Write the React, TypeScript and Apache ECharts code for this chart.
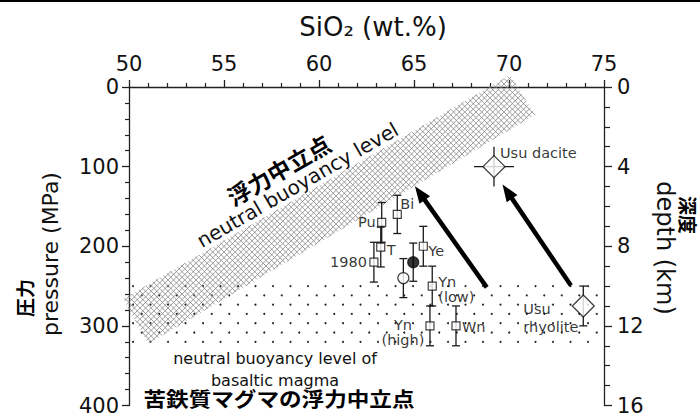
import React, { useEffect, useRef } from "react";
import * as echarts from "echarts";

// ---------------- data ----------------
const sampleNames = ["Pu", "Bi", "T", "1980", "Ye", "Yn\n(low)", "Yn\n(high)", "Wn"];
const sampleSiO2 = [63.3, 64.12, 63.25, 62.89, 65.49, 65.96, 65.84, 67.21];
const samplePressure = [170, 160, 201, 220, 200, 250, 300, 300];
const samplePressureError = [25, 24, 25, 25, 25, 25, 25, 25];

const circleNames = ["open", "filled"];
const circleSiO2 = [64.44, 64.96];
const circlePressure = [240, 220];
const circlePressureError = [24.5, 24];

const usuNames = ["Usu dacite", "Usu\nrhyolite"];
const usuSiO2 = [69.21, 73.91];
const usuPressure = [100, 275];
const usuPressureError = [25, 25];
const usuSiO2Error = [1.05, 0];

const arrowFromSiO2 = [68.83, 73.26];
const arrowFromPressure = [251.6, 249.4];
const arrowToSiO2 = [65.05, 69.66];
const arrowToPressure = [124.6, 122.5];

// neutral buoyancy band (corners)
const bandSiO2 = [49.7, 70.05, 71.37, 51.02];
const bandPressure = [266, -15, 35, 322.5];

// basaltic magma neutral buoyancy zone
const basaltSiO2 = [50, 75];
const basaltPressure = [250, 320];

const sio2Range = [50, 75];
const pressureRange = [0, 400];
const depthRange = [0, 16];

// ---------------- styles ----------------
const INK = "#111";
const LATIN = "DejaVu Sans";
const CJK = "Noto Sans CJK JP";

const labelLayout: Record<string, { align: string; offset: [number, number]; lineHeight?: number }> = {
  Pu: { align: "right", offset: [-6, 0] },
  Bi: { align: "left", offset: [3, -10] },
  T: { align: "left", offset: [6, 3] },
  "1980": { align: "right", offset: [-7, 0] },
  Ye: { align: "left", offset: [5, 5] },
  "Yn\n(low)": { align: "left", offset: [6, 3], lineHeight: 15 },
  "Yn\n(high)": { align: "center", offset: [-27, 7], lineHeight: 15 },
  Wn: { align: "left", offset: [6, 1] },
  "Usu dacite": { align: "left", offset: [6, -14] },
  "Usu\nrhyolite": { align: "left", offset: [-60, 12], lineHeight: 18 },
};
const capWidthByName: Record<string, number> = { "Usu dacite": 0 };

function clipLine(poly: number[][], a: number, b: number, c: number) {
  const pts: number[][] = [];
  for (let i = 0; i < poly.length; i++) {
    const p = poly[i];
    const q = poly[(i + 1) % poly.length];
    const fp = a * p[0] + b * p[1] - c;
    const fq = a * q[0] + b * q[1] - c;
    if ((fp <= 0 && fq > 0) || (fp > 0 && fq <= 0)) {
      const t = fp / (fp - fq);
      pts.push([p[0] + (q[0] - p[0]) * t, p[1] + (q[1] - p[1]) * t]);
    }
  }
  return pts.length >= 2 ? [pts[0], pts[1]] : null;
}

function labelFor(name: string) {
  const l = labelLayout[name];
  return {
    show: true,
    position: "inside",
    formatter: "{b}",
    align: l.align,
    offset: l.offset,
    lineHeight: l.lineHeight || 16,
    fontFamily: LATIN,
    fontSize: 14.5,
    color: "#000",
    textBorderWidth: 0,
    textBorderColor: "transparent",
    textShadowBlur: 0,
  };
}

function buildOption() {
  const errorData: any[] = [];
  sampleNames.forEach((n, i) =>
    errorData.push([sampleSiO2[i], samplePressure[i], samplePressureError[i], 0, 8])
  );
  circleNames.forEach((n, i) =>
    errorData.push([circleSiO2[i], circlePressure[i], circlePressureError[i], 0, 8])
  );
  usuNames.forEach((n, i) =>
    errorData.push([
      usuSiO2[i],
      usuPressure[i],
      usuPressureError[i],
      usuSiO2Error[i],
      capWidthByName[n] !== undefined ? capWidthByName[n] : 8,
    ])
  );

  const axisLineStyle = { color: "#222", width: 1.3 };
  const axisLabelBase = { fontFamily: LATIN, fontSize: 21, color: INK };

  return {
    animation: false,
    backgroundColor: "#fff",
    grid: { left: 129, right: 96, top: 87, bottom: 9, containLabel: false },
    xAxis: {
      type: "value",
      position: "top",
      min: sio2Range[0],
      max: sio2Range[1],
      interval: 5,
      axisLine: { show: true, onZero: false, lineStyle: axisLineStyle },
      axisTick: { show: true, length: 7, lineStyle: axisLineStyle },
      minorTick: { show: true, splitNumber: 5, length: 4, lineStyle: { color: "#222", width: 1.2 } },
      axisLabel: { ...axisLabelBase, margin: 13 },
      splitLine: { show: false },
    },
    yAxis: [
      {
        type: "value",
        position: "left",
        inverse: true,
        min: pressureRange[0],
        max: pressureRange[1],
        interval: 100,
        axisLine: { show: true, onZero: false, lineStyle: axisLineStyle },
        axisTick: { show: true, length: 7, lineStyle: axisLineStyle },
        minorTick: { show: true, splitNumber: 5, length: 4, lineStyle: { color: "#222", width: 1.2 } },
        axisLabel: { ...axisLabelBase, margin: 10 },
        splitLine: { show: false },
      },
      {
        type: "value",
        position: "right",
        inverse: true,
        min: depthRange[0],
        max: depthRange[1],
        interval: 4,
        axisLine: { show: true, onZero: false, lineStyle: axisLineStyle },
        axisTick: { show: true, length: 8, lineStyle: axisLineStyle },
        minorTick: { show: true, splitNumber: 4, length: 6, lineStyle: { color: "#222", width: 1.2 } },
        axisLabel: { ...axisLabelBase, margin: 13 },
        splitLine: { show: false },
      },
    ],
    series: [
      // dotted zone (basaltic magma NBL)
      {
        type: "custom",
        z: 1,
        silent: true,
        data: [[basaltSiO2[0], basaltPressure[0], basaltSiO2[1], basaltPressure[1]]],
        encode: { x: [0, 2], y: [1, 3] },
        renderItem: (params: any, api: any) => {
          const p0 = api.coord([api.value(0), api.value(1)]);
          const p1 = api.coord([api.value(2), api.value(3)]);
          const children: any[] = [];
          const dy = (p1[1] - p0[1]) / 6;
          const dx = 17.5;
          for (let r = 0; r <= 6; r++) {
            const y = p0[1] + r * dy;
            let x = p0[0] + 4 + (r % 2 === 1 ? dx / 2 : 0);
            for (; x <= p1[0] - 3; x += dx) {
              children.push({
                type: "circle",
                shape: { cx: x, cy: y, r: 1 },
                style: { fill: "#222" },
              });
            }
          }
          return { type: "group", children };
        },
      },
      // cross-hatched neutral buoyancy band
      {
        type: "custom",
        z: 2,
        silent: true,
        data: [[bandSiO2[0], bandPressure[0]]],
        renderItem: (params: any, api: any) => {
          const poly = bandSiO2.map((v, i) => api.coord([v, bandPressure[i]]));
          const children: any[] = [];
          const step = 5.6;
          const sums = poly.map((p: number[]) => p[0] + p[1]);
          const diffs = poly.map((p: number[]) => p[0] - p[1]);
          const addFamily = (vals: number[], a: number, b: number) => {
            const lo = Math.floor(Math.min(...vals) / step) * step;
            const hi = Math.max(...vals);
            for (let c = lo; c <= hi; c += step) {
              const seg = clipLine(poly, a, b, c);
              if (seg) {
                children.push({
                  type: "line",
                  shape: { x1: seg[0][0], y1: seg[0][1], x2: seg[1][0], y2: seg[1][1] },
                  style: { stroke: "#858585", lineWidth: 0.8 },
                });
              }
            }
          };
          addFamily(sums, 1, 1);
          addFamily(diffs, 1, -1);
          return { type: "group", children };
        },
      },
      // error bars
      {
        type: "custom",
        z: 3,
        silent: true,
        data: errorData,
        renderItem: (params: any, api: any) => {
          const x = api.value(0);
          const y = api.value(1);
          const ey = api.value(2);
          const ex = api.value(3);
          const cap = api.value(4);
          const top = api.coord([x, y - ey]);
          const bot = api.coord([x, y + ey]);
          const st = { stroke: "#1a1a1a", lineWidth: 1.3 };
          const children: any[] = [
            { type: "line", shape: { x1: top[0], y1: top[1], x2: bot[0], y2: bot[1] }, style: st },
          ];
          if (cap > 0) {
            children.push({ type: "line", shape: { x1: top[0] - cap / 2, y1: top[1], x2: top[0] + cap / 2, y2: top[1] }, style: st });
            children.push({ type: "line", shape: { x1: bot[0] - cap / 2, y1: bot[1], x2: bot[0] + cap / 2, y2: bot[1] }, style: st });
          }
          if (ex > 0) {
            const l = api.coord([x - ex, y]);
            const r = api.coord([x + ex, y]);
            children.push({ type: "line", shape: { x1: l[0], y1: l[1], x2: r[0], y2: r[1] }, style: st });
          }
          return { type: "group", children };
        },
      },
      // arrows
      {
        type: "custom",
        z: 4,
        silent: true,
        data: arrowFromSiO2.map((v, i) => [v, arrowFromPressure[i], arrowToSiO2[i], arrowToPressure[i]]),
        encode: { x: [0, 2], y: [1, 3] },
        renderItem: (params: any, api: any) => {
          const p1 = api.coord([api.value(0), api.value(1)]);
          const p2 = api.coord([api.value(2), api.value(3)]);
          const dx = p2[0] - p1[0];
          const dy = p2[1] - p1[1];
          const len = Math.sqrt(dx * dx + dy * dy);
          const ux = dx / len;
          const uy = dy / len;
          const nx = -uy;
          const ny = ux;
          const headLen = 17;
          const hw = 6.5;
          const bx = p2[0] - ux * headLen;
          const by = p2[1] - uy * headLen;
          return {
            type: "group",
            children: [
              {
                type: "line",
                shape: { x1: p1[0], y1: p1[1], x2: bx + ux * 3, y2: by + uy * 3 },
                style: { stroke: "#000", lineWidth: 4.5 },
              },
              {
                type: "polygon",
                shape: {
                  points: [
                    [p2[0], p2[1]],
                    [bx + nx * hw, by + ny * hw],
                    [bx - nx * hw, by - ny * hw],
                  ],
                },
                style: { fill: "#000" },
              },
            ],
          };
        },
      },
      // open squares
      {
        type: "scatter",
        z: 5,
        symbol: "rect",
        symbolSize: 8,
        itemStyle: { color: "#fff", borderColor: INK, borderWidth: 1.2 },
        data: sampleNames.map((n, i) => ({
          name: n,
          value: [sampleSiO2[i], samplePressure[i]],
          label: labelFor(n),
        })),
      },
      // circles
      {
        type: "scatter",
        z: 5,
        symbol: "circle",
        symbolSize: 11,
        data: circleNames.map((n, i) => ({
          name: n,
          value: [circleSiO2[i], circlePressure[i]],
          itemStyle: {
            color: n === "filled" ? "#000" : "#fff",
            borderColor: INK,
            borderWidth: 1.2,
          },
        })),
      },
      // Usu diamonds
      {
        type: "scatter",
        z: 5,
        symbol: "diamond",
        symbolSize: 22,
        itemStyle: { color: "#fff", borderColor: INK, borderWidth: 1.3 },
        data: usuNames.map((n, i) => ({
          name: n,
          value: [usuSiO2[i], usuPressure[i]],
          label: labelFor(n),
        })),
      },
    ],
    graphic: [
      { type: "rect", left: 0, top: 0, shape: { x: 0, y: 0, width: 700, height: 2 }, style: { fill: "#000" } },
      {
        type: "text",
        x: 373,
        y: 27,
        style: {
          text: "SiO\u2082 (wt.%)",
          fontFamily: LATIN,
          fontSize: 26,
          fill: INK,
          align: "center",
          verticalAlign: "middle",
          textAlign: "center",
          textVerticalAlign: "middle",
        },
      },
      {
        type: "text",
        x: 50,
        y: 254,
        rotation: Math.PI / 2,
        style: {
          text: "pressure (MPa)",
          fontFamily: LATIN,
          fontSize: 22,
          fill: INK,
          align: "center",
          verticalAlign: "middle",
          textAlign: "center",
          textVerticalAlign: "middle",
        },
      },
      {
        type: "text",
        x: 24,
        y: 298,
        rotation: Math.PI / 2,
        style: {
          text: "圧力",
          fontFamily: CJK,
          fontWeight: "bold",
          fontSize: 19,
          fill: "#000",
          align: "center",
          verticalAlign: "middle",
          textAlign: "center",
          textVerticalAlign: "middle",
        },
      },
      {
        type: "text",
        x: 665,
        y: 248,
        rotation: -Math.PI / 2,
        style: {
          text: "depth (km)",
          fontFamily: LATIN,
          fontSize: 24,
          fill: INK,
          align: "center",
          verticalAlign: "middle",
          textAlign: "center",
          textVerticalAlign: "middle",
        },
      },
      {
        type: "text",
        x: 688,
        y: 215,
        rotation: -Math.PI / 2,
        style: {
          text: "深度",
          fontFamily: CJK,
          fontWeight: "bold",
          fontSize: 19,
          fill: "#000",
          align: "center",
          verticalAlign: "middle",
          textAlign: "center",
          textVerticalAlign: "middle",
        },
      },
      {
        type: "text",
        x: 278.5,
        y: 169.5,
        rotation: (30 * Math.PI) / 180,
        style: {
          text: "浮力中立点",
          fontFamily: CJK,
          fontWeight: "bold",
          fontSize: 23,
          fill: "#000",
          align: "center",
          verticalAlign: "middle",
          textAlign: "center",
          textVerticalAlign: "middle",
        },
      },
      {
        type: "text",
        x: 297.5,
        y: 185,
        rotation: (30 * Math.PI) / 180,
        style: {
          text: "neutral buoyancy level",
          fontFamily: LATIN,
          fontSize: 20,
          fill: INK,
          align: "center",
          verticalAlign: "middle",
          textAlign: "center",
          textVerticalAlign: "middle",
        },
      },
      {
        type: "text",
        x: 275,
        y: 358,
        style: {
          text: "neutral buoyancy level of",
          fontFamily: LATIN,
          fontSize: 16,
          fill: INK,
          align: "center",
          verticalAlign: "middle",
          textAlign: "center",
          textVerticalAlign: "middle",
        },
      },
      {
        type: "text",
        x: 275,
        y: 380,
        style: {
          text: "basaltic magma",
          fontFamily: LATIN,
          fontSize: 16,
          fill: INK,
          align: "center",
          verticalAlign: "middle",
          textAlign: "center",
          textVerticalAlign: "middle",
        },
      },
      {
        type: "text",
        x: 279,
        y: 398,
        scaleX: 1.13,
        style: {
          text: "苦鉄質マグマの浮力中立点",
          fontFamily: CJK,
          fontWeight: "bold",
          fontSize: 20,
          fill: "#000",
          align: "center",
          verticalAlign: "middle",
          textAlign: "center",
          textVerticalAlign: "middle",
        },
      },
    ],
  };
}

export default function App() {
  const ref = useRef<HTMLDivElement>(null);
  useEffect(() => {
    if (!ref.current) return;
    const chart = echarts.init(ref.current, undefined, { renderer: "svg" });
    chart.setOption(buildOption() as any);
    return () => chart.dispose();
  }, []);
  return (
    <div
      ref={ref}
      style={{ position: "absolute", left: 0, top: 0, width: 700, height: 416, background: "#fff" }}
    />
  );
}
